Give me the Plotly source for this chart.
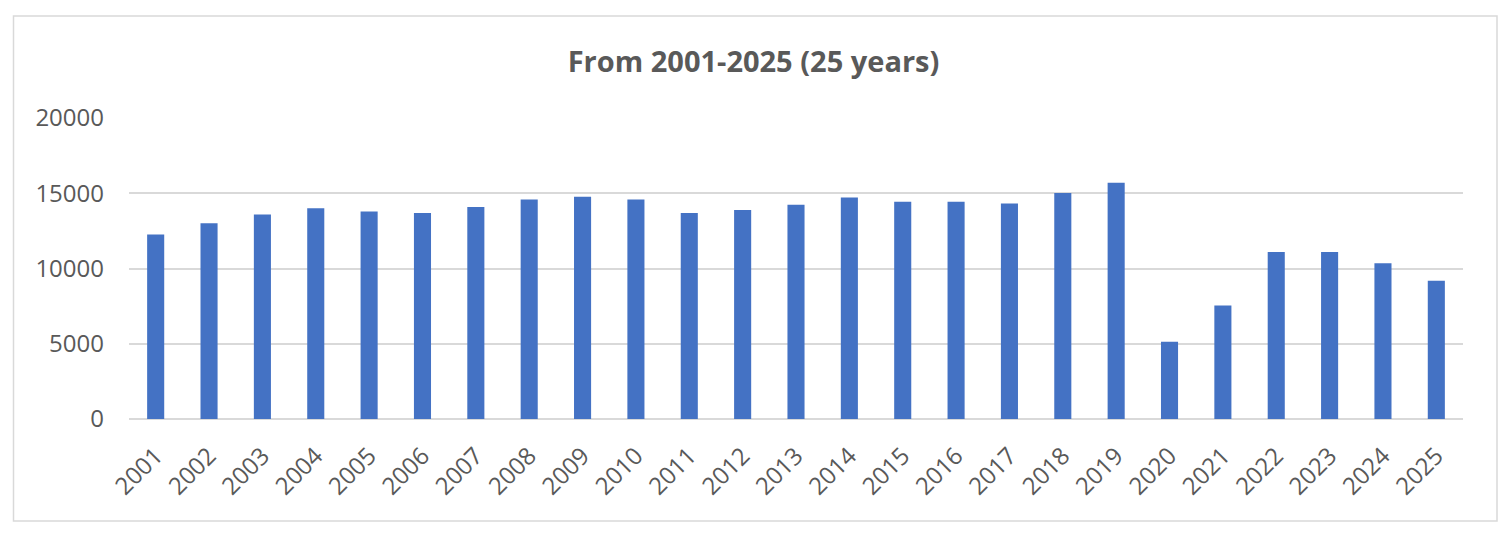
import plotly.graph_objects as go

# data
years = [str(y) for y in range(2001, 2026)]
counts = [12260, 13000, 13590, 14000, 13790, 13680, 14080, 14590, 14770,
          14590, 13680, 13880, 14230, 14720, 14430, 14430, 14320, 15010,
          15700, 5140, 7540, 11090, 11090, 10350, 9180]
y_ticks = [0, 5000, 10000, 15000, 20000]
chart_title = "From 2001-2025 (25 years)"

W, H = 1507, 533
# plot area in pixels
L, R, T, B = 129, 1463, 118, 419

def px_x(x):
    return (x - L) / (R - L)

def px_y(y):
    return (B - y) / (B - T)

grey = "#D9D9D9"
text_col = "#595959"

fig = go.Figure(go.Bar(
    x=years, y=counts,
    marker=dict(color="#4472C4", line=dict(width=0)),
))

fig.update_layout(
    width=W, height=H,
    margin=dict(l=L, r=W - R, t=T, b=H - B),
    paper_bgcolor="white", plot_bgcolor="white",
    bargap=0.68,
    showlegend=False,
    font=dict(family="Open Sans", color=text_col, size=24),
    title=dict(text=chart_title, x=0.5, xanchor="center",
               y=1 - 62 / H, yanchor="middle", yref="container",
               font=dict(family="Open Sans", size=29, color=text_col, weight="bold")),
    xaxis=dict(type="category", tickangle=-45, showgrid=False,
               showline=False, ticks="", ticklabelstandoff=17),
    yaxis=dict(range=[0, 20000], tickvals=y_ticks, tickformat="d", showgrid=True,
               gridcolor=grey, gridwidth=1.5, zeroline=True, zerolinecolor=grey,
               zerolinewidth=1.5, showline=False, ticks="", ticklabelstandoff=24),
    shapes=[dict(type="rect", xref="paper", yref="paper",
                 x0=px_x(13.5), x1=px_x(1497), y0=px_y(521), y1=px_y(16),
                 line=dict(color=grey, width=1.5), fillcolor="rgba(0,0,0,0)",
                 layer="below")],
)

# drop the default page margin so the figure sits at the window's top-left
fig.write_html("out.html", config={"displayModeBar": False},
               post_script="document.body.style.margin='0';")
